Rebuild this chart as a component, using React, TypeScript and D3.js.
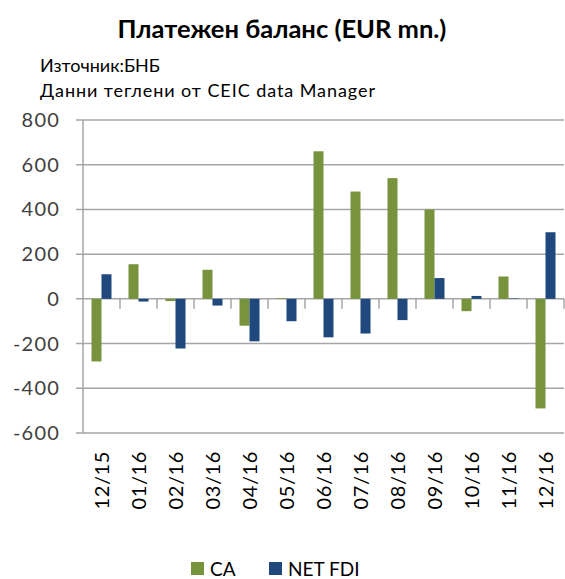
import React from "react";
import * as d3 from "d3";

const categories = ["12/15","01/16","02/16","03/16","04/16","05/16","06/16","07/16","08/16","09/16","10/16","11/16","12/16"];
const caValues = [-280, 155, -10, 130, -120, 3, 660, 480, 540, 400, -55, 100, -490];
const fdiValues = [110, -12, -222, -30, -190, -100, -172, -155, -95, 93, 13, 2, 298];
const yTicks = [-600, -400, -200, 0, 200, 400, 600, 800];
const seriesNames = ["CA", "NET FDI"];
const colors = ["#77933C", "#1F497D"];

const W = 565, H = 579;
const FONT = "Lato, 'Open Sans', sans-serif";

export default function App() {
  const left = 83, right = 564, top = 120, bottom = 433;
  const y = d3.scaleLinear().domain([-600, 800]).range([bottom, top]);
  const x = d3.scaleBand().domain(categories).range([left, right]).paddingInner(0).paddingOuter(0);
  const inner = d3.scaleBand().domain(seriesNames).range([0, 20]);
  const bw = x.bandwidth();
  const off = (bw - 20) / 2;
  const series = [caValues, fdiValues];
  const gridColor = "#a6a6a6";
  return (
    <svg width={W} height={H} style={{ position: "absolute", left: 0, top: 0, background: "#fff" }}>
      <text x={282} y={38} textAnchor="middle" fontFamily={FONT} fontWeight="bold" fontSize={25.5} fill="#000">Платежен баланс (EUR mn.)</text>
      <text x={40} y={72} fontFamily={FONT} fontSize={18} fill="#000">Източник:БНБ</text>
      <text x={40} y={97} fontFamily={FONT} fontSize={18} fill="#000" textLength={335} lengthAdjust="spacing">Данни теглени от CEIC data Manager</text>
      {yTicks.map(t => (
        <g key={t}>
          <line x1={left - 7} x2={right} y1={y(t)} y2={y(t)} stroke={gridColor} strokeWidth={1.5} />
          <text x={60} y={y(t)} dy="0.35em" textAnchor="end" fontFamily={FONT} fontSize={20} letterSpacing={1.2} fill="#404040">{t}</text>
        </g>
      ))}
      <line x1={left} x2={left} y1={top} y2={bottom} stroke={gridColor} strokeWidth={1.5} />
      {categories.map((c, i) => (
        <line key={"t" + c} x1={x(c)! + bw} x2={x(c)! + bw} y1={y(0)} y2={y(0) + 10} stroke={gridColor} strokeWidth={1.5} />
      ))}
      {series.map((vals, si) => (
        <g key={si}>
          {vals.map((v, i) => {
            const c = categories[i];
            const bx = x(c)! + off + inner(seriesNames[si])!;
            return <rect key={c} x={bx} width={inner.bandwidth()} y={Math.min(y(v), y(0))} height={Math.abs(y(v) - y(0))} fill={colors[si]} />;
          })}
        </g>
      ))}
      {categories.map(c => {
        const cx = x(c)! + bw / 2;
        return (
          <text key={"l" + c} transform={`translate(${cx},${451}) rotate(-90)`} textAnchor="end" dy="0.35em" fontFamily={FONT} fontSize={20} letterSpacing={0.6} fill="#000">{c}</text>
        );
      })}
      <rect x={191} y={562} width={13} height={13} fill={colors[0]} />
      <text x={210} y={576} fontFamily={FONT} fontSize={19} fill="#000">{seriesNames[0]}</text>
      <rect x={269} y={562} width={13} height={13} fill={colors[1]} />
      <text x={288} y={576} fontFamily={FONT} fontSize={19} fill="#000">{seriesNames[1]}</text>
    </svg>
  );
}
